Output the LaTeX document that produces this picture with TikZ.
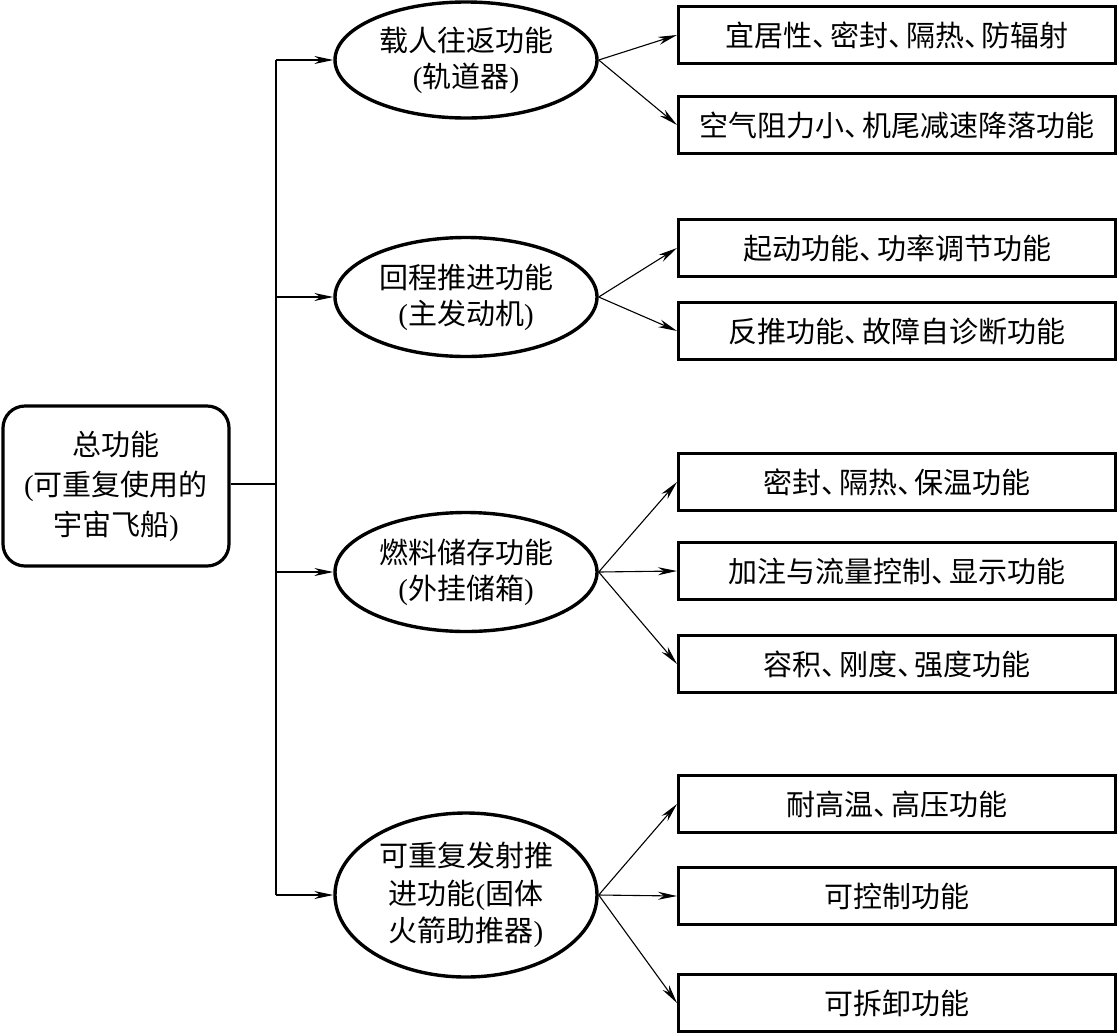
\documentclass[tikz,border=0pt]{standalone}
\usepackage{fontspec}
\setmainfont{Noto Sans CJK SC}
\newfontfamily\latparen{Liberation Serif}
\usetikzlibrary{shapes.geometric,arrows.meta}
\newcommand{\lp}{{\latparen(}}
\newcommand{\rp}{{\latparen)}}
\newcommand{\dun}{\makebox[0.62em][l]{、}}
\begin{document}
\begin{tikzpicture}[x=1pt,y=-1pt,
  txt/.style={font=\fontsize{29}{36}\selectfont,align=center,inner sep=0pt},
  rootbox/.style={txt,draw,line width=3.2pt,rounded corners=22pt,minimum width=226pt,minimum height=160pt,font=\fontsize{29}{40}\selectfont},
  oval/.style={txt,draw,ellipse,line width=3.4pt,minimum width=262pt},
  leaf/.style={txt,draw,line width=3pt,minimum width=437pt,minimum height=57pt},
  conn/.style={line width=1.1pt},
  arr/.style={conn,-{Stealth[length=19pt,width=8pt,inset=6pt]}}]
\useasboundingbox (0,0) rectangle (1118,1034);
\node[rootbox] (root) at (116,486) {总功能\\\lp 可重复使用的\\宇宙飞船\rp};
\node[oval,minimum height=116pt] (e1) at (466,60) {载人往返功能\\\lp 轨道器\rp};
\node[oval,minimum height=119pt] (e2) at (466,297) {回程推进功能\\\lp 主发动机\rp};
\node[oval,minimum height=119pt] (e3) at (466,572) {燃料储存功能\\\lp 外挂储箱\rp};
\node[oval,minimum height=164pt,font=\fontsize{29}{37.5}\selectfont] (e4) at (466,895) {可重复发射推\\进功能\lp 固体\\火箭助推器\rp};
\node[leaf] (b1) at (897,35) {宜居性\dun 密封\dun 隔热\dun 防辐射};
\node[leaf] (b2) at (897,125) {空气阻力小\dun 机尾减速降落功能};
\node[leaf] (b3) at (897,248) {起动功能\dun 功率调节功能};
\node[leaf] (b4) at (897,331) {反推功能\dun 故障自诊断功能};
\node[leaf] (b5) at (897,482) {密封\dun 隔热\dun 保温功能};
\node[leaf] (b6) at (897,571) {加注与流量控制\dun 显示功能};
\node[leaf] (b7) at (897,664) {容积\dun 刚度\dun 强度功能};
\node[leaf] (b8) at (897,804) {耐高温\dun 高压功能};
\node[leaf] (b9) at (897,896) {可控制功能};
\node[leaf] (b10) at (897,1003) {可拆卸功能};
\coordinate (jr) at (276,484);
\coordinate (j1) at (e1.west -| jr);
\coordinate (j2) at (e2.west -| jr);
\coordinate (j3) at (e3.west -| jr);
\coordinate (j4) at (e4.west -| jr);
\draw[conn] (root.east |- jr) -- (jr);
\draw[conn] (j1) -- (j4);
\draw[arr] (j1) -- (e1.west);
\draw[arr] (j2) -- (e2.west);
\draw[arr] (j3) -- (e3.west);
\draw[arr] (j4) -- (e4.west);
\draw[arr] (e1.east) -- (b1.west);
\draw[arr] (e1.east) -- (b2.west);
\draw[arr] (e2.east) -- (b3.west);
\draw[arr] (e2.east) -- (b4.west);
\draw[arr] (e3.east) -- (b5.west);
\draw[arr] (e3.east) -- (b6.west);
\draw[arr] (e3.east) -- (b7.west);
\draw[arr] (e4.east) -- (b8.west);
\draw[arr] (e4.east) -- (b9.west);
\draw[arr] (e4.east) -- (b10.west);
\end{tikzpicture}
\end{document}
